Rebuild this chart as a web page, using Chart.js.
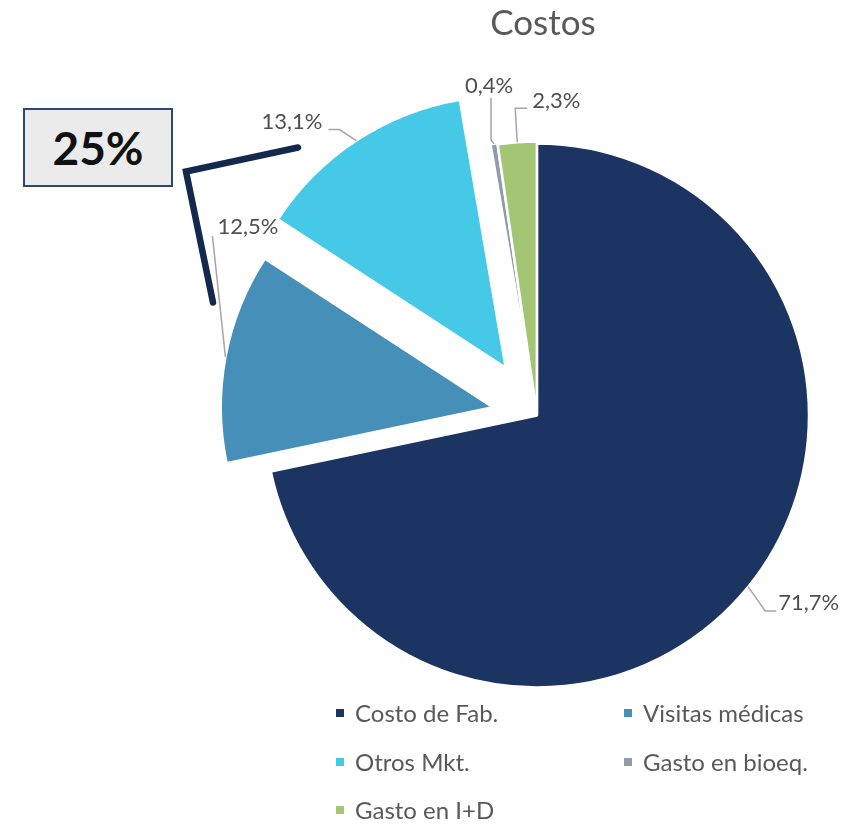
<!DOCTYPE html>
<html>
<head>
<meta charset="utf-8">
<script src="https://cdn.jsdelivr.net/npm/chart.js@4/dist/chart.umd.min.js"></script>
<style>
  html, body { margin: 0; padding: 0; background: #ffffff; }
  body { width: 851px; height: 825px; position: relative; overflow: hidden; font-family: Lato, "Open Sans", sans-serif; }
  #wrap { position: absolute; left: 0; top: 0; width: 851px; height: 825px; }
  #title { position: absolute; left: 443px; top: 1px; width: 200px; text-align: center; font-size: 35px; line-height: 40px; color: #595959; }
  #box { position: absolute; left: 23px; top: 108px; width: 146px; height: 75px; background: #EBEBEB; border: 2px solid #2C4676;
         display: flex; align-items: center; justify-content: center; font-weight: bold; font-size: 46px; color: #111111; }
  .lg { position: absolute; height: 30px; line-height: 30px; display: flex; align-items: center; font-size: 24px; color: #595959; white-space: nowrap; }
  .lg i { display: inline-block; width: 8px; height: 8px; margin-right: 11px; }
</style>
</head>
<body>
<div id="wrap"><canvas id="c" width="851" height="825"></canvas></div>
<div id="title">Costos</div>
<div id="box">25%</div>
<div id="legend"></div>
<script>
// ---- data ----
const chartTitle = 'Costos';
const categories = ['Costo de Fab.', 'Visitas médicas', 'Otros Mkt.', 'Gasto en bioeq.', 'Gasto en I+D'];
const values = [71.7, 12.5, 13.1, 0.4, 2.3];
const calloutText = '25%';

// ---- style ----
const colors = ['#1C3461', '#468FB9', '#45C9E6', '#8F9BA9', '#A3C675'];
const explode = [0, 45, 57, 3, 2];
// leader lines (relative to slice edge at mid-angle) and label placement
const leaders = [
  { pts: [[0,0],[17,24],[28,24]], tx: 30, ty: 16, align: 'left' },
  { pts: [[0,0],[-13,-121]],       tx: -8, ty: -130, align: 'left' },
  { pts: [[0,0],[-17,-11],[-28,-11]], tx: -34, ty: -19, align: 'right' },
  { pts: [[0,0],[-3,-4],[-3,-46]],  tx: -5, ty: -58, align: 'center' },
  { pts: [[0,0],[-2,-34],[10,-34]], tx: 15, ty: -41, align: 'left' }
];
const bracket = [[-239,-268],[-351,-244],[-324,-113]];

function fmt(v) { return v.toFixed(1).replace('.', ',') + '%'; }

document.getElementById('title').textContent = chartTitle;
document.getElementById('box').textContent = calloutText;
const legendPos = [[336,698],[624,698],[336,747],[624,747],[336,795]];
const lg = document.getElementById('legend');
categories.forEach((c, i) => {
  const d = document.createElement('div');
  d.className = 'lg';
  d.style.left = legendPos[i][0] + 'px';
  d.style.top = legendPos[i][1] + 'px';
  const m = document.createElement('i');
  m.style.background = colors[i];
  d.appendChild(m);
  d.appendChild(document.createTextNode(c));
  lg.appendChild(d);
});

const explodePlugin = {
  id: 'explodeLabels',
  beforeDatasetsDraw(chart) {
    const meta = chart.getDatasetMeta(0);
    meta.data.forEach((arc, i) => {
      const a = (arc.startAngle + arc.endAngle) / 2;
      arc.x += Math.cos(a) * explode[i];
      arc.y += Math.sin(a) * explode[i];
    });
  },
  afterDatasetsDraw(chart) {
    const ctx = chart.ctx;
    const meta = chart.getDatasetMeta(0);
    ctx.save();
    meta.data.forEach((arc, i) => {
      const a = (arc.startAngle + arc.endAngle) / 2;
      const r = arc.outerRadius;
      const px = arc.x + Math.cos(a) * r;
      const py = arc.y + Math.sin(a) * r;
      const L = leaders[i];
      ctx.beginPath();
      L.pts.forEach((p, k) => { if (k === 0) ctx.moveTo(px + p[0], py + p[1]); else ctx.lineTo(px + p[0], py + p[1]); });
      ctx.strokeStyle = '#A6A6A6';
      ctx.lineWidth = 1.5;
      ctx.stroke();
      ctx.fillStyle = '#4F4F4F';
      ctx.font = '22px Lato, "Open Sans", sans-serif';
      ctx.textAlign = L.align;
      ctx.textBaseline = 'middle';
      ctx.fillText(fmt(values[i]), px + L.tx, py + L.ty);
    });
    // callout bracket
    const ca = chart.chartArea;
    const cx = (ca.left + ca.right) / 2, cy = (ca.top + ca.bottom) / 2;
    ctx.beginPath();
    bracket.forEach((p, k) => { if (k === 0) ctx.moveTo(cx + p[0], cy + p[1]); else ctx.lineTo(cx + p[0], cy + p[1]); });
    ctx.strokeStyle = '#13284D';
    ctx.lineWidth = 6.5;
    ctx.lineCap = 'round';
    ctx.lineJoin = 'miter';
    ctx.stroke();
    ctx.restore();
    // restore arc centres
    meta.data.forEach((arc, i) => {
      const a = (arc.startAngle + arc.endAngle) / 2;
      arc.x -= Math.cos(a) * explode[i];
      arc.y -= Math.sin(a) * explode[i];
    });
  }
};

function make() {
  new Chart(document.getElementById('c'), {
    type: 'pie',
    data: {
      labels: categories,
      datasets: [{
        data: values,
        backgroundColor: colors,
        borderColor: '#ffffff',
        borderWidth: 2.5,
        radius: 272
      }]
    },
    options: {
      responsive: false,
      animation: false,
      layout: { padding: { left: 223, right: 0, top: 6, bottom: 0 } },
      plugins: { legend: { display: false }, tooltip: { enabled: false }, title: { display: false } }
    },
    plugins: [explodePlugin]
  });
}
if (document.fonts && document.fonts.load) {
  Promise.all([document.fonts.load('22px Lato'), document.fonts.load('bold 46px Lato')]).then(make, make);
} else { make(); }
</script>
</body>
</html>
